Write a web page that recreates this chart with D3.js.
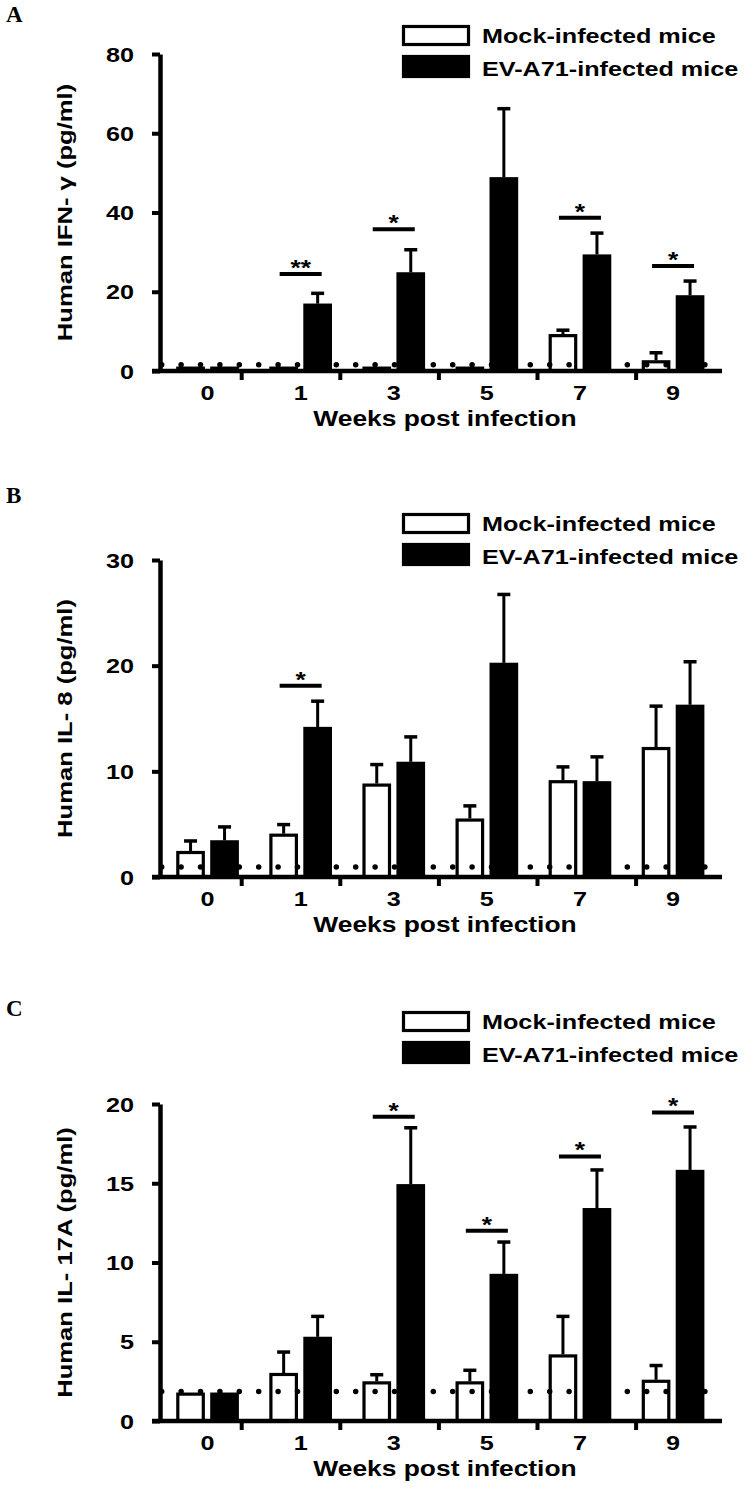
<!DOCTYPE html>
<html><head><meta charset="utf-8">
<script src="https://cdn.jsdelivr.net/npm/d3@7"></script>
<style>body{margin:0;background:#fff} svg{display:block}</style>
</head><body>
<svg id="chart" width="750" height="1491"></svg>
<script>
// ---------------- DATA ----------------
const weeks = ["0", "1", "3", "5", "7", "9"];
const seriesNames = ["Mock-infected mice", "EV-A71-infected mice"];
const xTitle = "Weeks post infection";

// Panel A: Human IFN-γ
const ifngLabel = "Human IFN- γ (pg/ml)";
const ifngTicks = [0, 20, 40, 60, 80];
const ifngMock = [1.1, 1.1, 1.1, 1.1, 9.3, 2.7];
const ifngMockErr = [0, 0, 0, 0, 1.0, 1.9];
const ifngEV = [1.1, 17.0, 24.9, 48.9, 29.4, 19.1];
const ifngEVErr = [0, 2.6, 5.7, 17.3, 5.4, 3.6];
const ifngLOD = 1.6;
const ifngSig = [
  { week: "1", level: 24.5, mark: "**" },
  { week: "3", level: 35.8, mark: "*" },
  { week: "7", level: 38.7, mark: "*" },
  { week: "9", level: 26.5, mark: "*" }
];

// Panel B: Human IL-8
const il8Label = "Human IL- 8 (pg/ml)";
const il8Ticks = [0, 10, 20, 30];
const il8Mock = [2.46, 4.1, 8.84, 5.53, 9.16, 12.3];
const il8MockErr = [0.95, 0.86, 1.8, 1.2, 1.26, 3.87];
const il8EV = [3.47, 14.2, 10.9, 20.27, 9.06, 16.3];
const il8EVErr = [1.27, 2.44, 2.36, 6.47, 2.31, 4.07];
const il8LOD = 0.95;
const il8Sig = [{ week: "1", level: 18.1, mark: "*" }];

// Panel C: Human IL-17A
const il17Label = "Human IL- 17A (pg/ml)";
const il17Ticks = [0, 5, 10, 15, 20];
const il17Mock = [1.79, 3.03, 2.5, 2.5, 4.2, 2.6];
const il17MockErr = [0, 1.32, 0.42, 0.7, 2.4, 0.9];
const il17EV = [1.79, 5.31, 14.94, 9.28, 13.43, 15.84];
const il17EVErr = [0, 1.29, 3.56, 2.01, 2.41, 2.71];
const il17LOD = 1.86;
const il17Sig = [
  { week: "3", level: 19.19, mark: "*" },
  { week: "5", level: 12.0, mark: "*" },
  { week: "7", level: 16.69, mark: "*" },
  { week: "9", level: 19.47, mark: "*" }
];

// ---------------- LAYOUT ----------------
const panels = [
  { letter: "A", letterY: 22, top: 54, zero: 371, legendTop: 25, label: ifngLabel, ticks: ifngTicks,
    mock: ifngMock, mockErr: ifngMockErr, ev: ifngEV, evErr: ifngEVErr, lod: ifngLOD, sig: ifngSig },
  { letter: "B", letterY: 503, top: 560, zero: 877, legendTop: 513, label: il8Label, ticks: il8Ticks,
    mock: il8Mock, mockErr: il8MockErr, ev: il8EV, evErr: il8EVErr, lod: il8LOD, sig: il8Sig },
  { letter: "C", letterY: 1016, top: 1104, zero: 1421, legendTop: 1011, label: il17Label, ticks: il17Ticks,
    mock: il17Mock, mockErr: il17MockErr, ev: il17EV, evErr: il17EVErr, lod: il17LOD, sig: il17Sig }
];

const svg = d3.select("#chart");
const axisX = 160;          // y-axis position
const axisRight = 722;
const SX = 1.2;             // horizontal text stretch
const FONT = "'Liberation Sans', Arial, Helvetica, sans-serif";

const xGroup = d3.scaleBand().domain(weeks).range([161, 719.6]);
const xSub = d3.scaleBand().domain(["mock", "ev"]).range([-34, 34]).paddingInner(0.162).paddingOuter(0.081);
const xTickBand = d3.scaleBand().domain(weeks).range([143.1, 734.7]);
const center = w => xGroup(w) + xGroup.bandwidth() / 2;

function stext(g, x, y, str, o = {}) {
  return g.append("text")
    .attr("transform", `translate(${x},${y}) rotate(${o.rotate || 0}) scale(${o.sx || SX},1)`)
    .attr("text-anchor", o.anchor || "start")
    .style("font-family", o.family || FONT)
    .style("font-weight", "bold")
    .style("font-size", (o.size || 21) + "px")
    .attr("fill", "#000")
    .text(str);
}

panels.forEach(p => {
  const g = svg.append("g");
  const maxV = p.ticks[p.ticks.length - 1];
  const y = d3.scaleLinear().domain([0, maxV]).range([p.zero, p.top]);

  // panel letter
  stext(g, 6, p.letterY, p.letter, { family: "'Liberation Serif', 'Times New Roman', serif", size: 23, sx: 1 });

  // legend
  const lg = g.append("g");
  seriesNames.forEach((name, i) => {
    const by = p.legendTop + i * 30;
    const bh = i === 0 ? 21 : 23;
    lg.append("rect")
      .attr("x", 403.5).attr("y", by + 1.5).attr("width", 65).attr("height", bh - 3)
      .attr("fill", i === 0 ? "#fff" : "#000").attr("stroke", "#000").attr("stroke-width", 3.2);
    stext(lg, 482, by + (i === 0 ? 17.5 : 21), name, { size: 21 });
  });

  // bars
  const rows = weeks.map((w, i) => ({ w, mock: p.mock[i], mockErr: p.mockErr[i], ev: p.ev[i], evErr: p.evErr[i] }));
  const bw = xSub.bandwidth();
  ["mock", "ev"].forEach(key => {
    g.selectAll(null).data(rows).enter().append("rect")
      .attr("x", d => center(d.w) + xSub(key) + 1.5)
      .attr("width", bw - 3)
      .attr("y", d => y(d[key]) + 1.5)
      .attr("height", d => Math.max(0, y(0) - y(d[key]) - 1.5))
      .attr("fill", key === "mock" ? "#fff" : "#000")
      .attr("stroke", "#000").attr("stroke-width", 3.2);
    // error bars
    const eb = rows.filter(d => d[key + "Err"] > 0);
    g.selectAll(null).data(eb).enter().append("line")
      .attr("x1", d => center(d.w) + xSub(key) + bw / 2)
      .attr("x2", d => center(d.w) + xSub(key) + bw / 2)
      .attr("y1", d => y(d[key]))
      .attr("y2", d => y(d[key] + d[key + "Err"]))
      .attr("stroke", "#000").attr("stroke-width", 3);
    g.selectAll(null).data(eb).enter().append("line")
      .attr("x1", d => center(d.w) + xSub(key) + bw / 2 - 6.5)
      .attr("x2", d => center(d.w) + xSub(key) + bw / 2 + 6.5)
      .attr("y1", d => y(d[key] + d[key + "Err"]))
      .attr("y2", d => y(d[key] + d[key + "Err"]))
      .attr("stroke", "#000").attr("stroke-width", 3.5);
  });

  // detection-limit dotted line
  g.append("line")
    .attr("x1", 161.7).attr("x2", 707).attr("y1", y(p.lod)).attr("y2", y(p.lod))
    .attr("stroke", "#000").attr("stroke-width", 5.5)
    .attr("stroke-linecap", "round").attr("stroke-dasharray", "0 19.4");

  // significance bars
  p.sig.forEach(s => {
    const c = center(s.week);
    g.append("line").attr("x1", c - 21).attr("x2", c + 21)
      .attr("y1", y(s.level)).attr("y2", y(s.level))
      .attr("stroke", "#000").attr("stroke-width", 4);
    stext(g, c, y(s.level) + 1, s.mark, { anchor: "middle", size: 22 });
  });

  // y axis
  const ya = g.append("g").attr("transform", `translate(${axisX},0)`)
    .call(d3.axisLeft(y).tickValues(p.ticks).tickSize(8).tickSizeOuter(0).tickFormat(""));
  ya.select(".domain").attr("stroke", "#000").attr("stroke-width", 4.5);
  ya.selectAll(".tick line").attr("stroke", "#000").attr("stroke-width", 4);
  p.ticks.forEach(t => stext(g, 134, y(t) + 7.5, String(t), { anchor: "end", size: 21 }));

  // x axis
  g.append("line").attr("x1", axisX - 8).attr("x2", axisRight)
    .attr("y1", y(0)).attr("y2", y(0)).attr("stroke", "#000").attr("stroke-width", 4.5);
  weeks.slice(1).forEach(w => {
    const tx = xTickBand(w);
    g.append("line").attr("x1", tx).attr("x2", tx).attr("y1", y(0)).attr("y2", y(0) + 9)
      .attr("stroke", "#000").attr("stroke-width", 4);
  });
  weeks.forEach(w => stext(g, center(w), y(0) + 29, w, { anchor: "middle", size: 21 }));
  stext(g, 445, y(0) + 55, xTitle, { anchor: "middle", size: 22 });

  // y label
  stext(g, 72, (p.top + p.zero) / 2, p.label, { anchor: "middle", size: 21, rotate: -90, sx: 1.22 });
});
</script>
</body></html>
